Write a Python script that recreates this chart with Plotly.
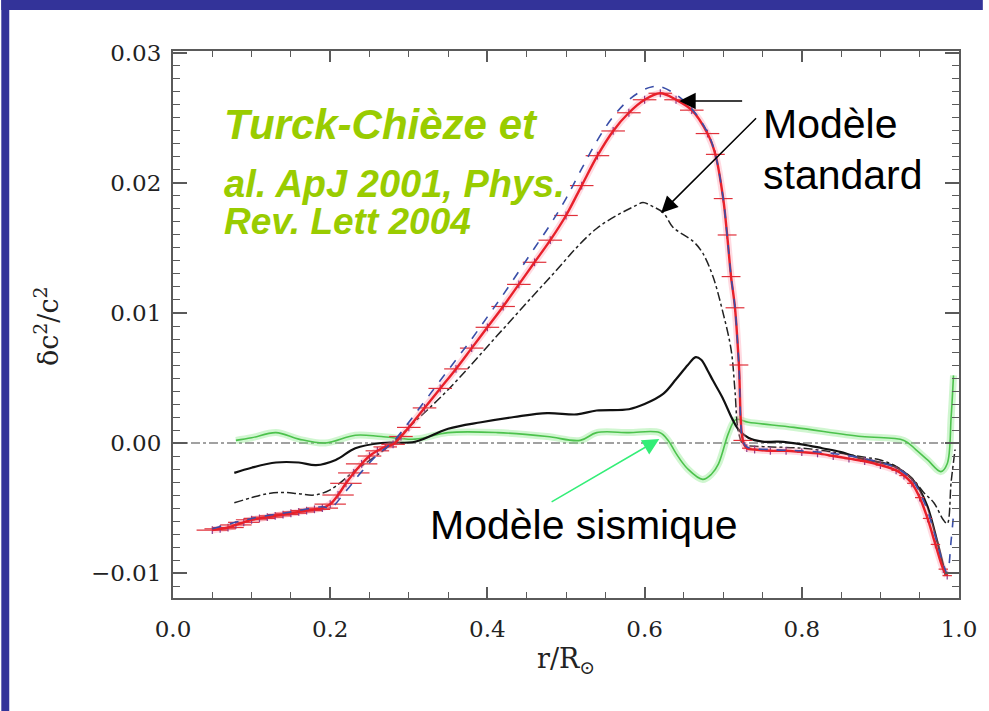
import plotly.graph_objects as go

# ---- seismic inversion (red points with radial resolution bars) ----
r_sismo = [0.05, 0.06, 0.07, 0.08, 0.09, 0.10, 0.11, 0.12, 0.13, 0.14, 0.15, 0.16, 0.17, 0.18, 0.19,
           0.20, 0.21, 0.22, 0.23, 0.24, 0.25, 0.26, 0.27, 0.28, 0.29, 0.30, 0.32, 0.34, 0.36, 0.38,
           0.40, 0.42, 0.44, 0.46, 0.48, 0.50, 0.52, 0.54, 0.56, 0.58, 0.60, 0.62, 0.64, 0.66, 0.68,
           0.69, 0.70, 0.705, 0.71, 0.715, 0.72, 0.725, 0.73, 0.74, 0.76, 0.78, 0.80, 0.82, 0.84,
           0.86, 0.88, 0.90, 0.92, 0.93, 0.94, 0.95, 0.96, 0.97, 0.98, 0.985]
dc2_sismo = [-0.0067, -0.0066, -0.0065, -0.0063, -0.0061, -0.0059, -0.0058, -0.0057, -0.0056, -0.0055,
             -0.0054, -0.0053, -0.0052, -0.0051, -0.0050, -0.0047, -0.0040, -0.0031, -0.0023, -0.0016,
             -0.0010, -0.0006, -0.0003, -0.0001, 0.0005, 0.0012, 0.0027, 0.0042, 0.0057, 0.0073,
             0.0089, 0.0105, 0.0122, 0.0139, 0.0156, 0.0175, 0.0198, 0.0221, 0.0240, 0.0254,
             0.0264, 0.0269, 0.0264, 0.0256, 0.0238, 0.0222, 0.0188, 0.0160, 0.0128, 0.0104,
             0.0060, 0.0002, -0.0004, -0.0005, -0.0006, -0.0006, -0.0007, -0.0008, -0.0010,
             -0.0012, -0.0014, -0.0017, -0.0021, -0.0025, -0.0031, -0.0042, -0.0058, -0.0078,
             -0.0097, -0.0102]
err_r = [0.02] * 20 + [0.015] * 25 + [0.012] * 7 + [0.006] * 18

# ---- standard models ----
r_std1 = [0.05, 0.10, 0.15, 0.19, 0.20, 0.22, 0.24, 0.26, 0.28, 0.30, 0.32, 0.34, 0.36, 0.38, 0.40,
          0.42, 0.44, 0.46, 0.48, 0.50, 0.52, 0.54, 0.56, 0.58, 0.60, 0.61, 0.62, 0.64, 0.66, 0.68,
          0.69, 0.70, 0.705, 0.71, 0.715, 0.72, 0.725, 0.73, 0.76, 0.80, 0.84, 0.88, 0.90, 0.92,
          0.94, 0.95, 0.96, 0.97, 0.98, 0.985, 0.99, 0.993]
dc2_std1 = [-0.0066, -0.0058, -0.0053, -0.0049, -0.0050, -0.0037, -0.0022, -0.0009, 0.0001, 0.0016,
            0.0032, 0.0048, 0.0064, 0.0080, 0.0097, 0.0114, 0.0132, 0.0150, 0.0168, 0.0188, 0.0211,
            0.0233, 0.0251, 0.0264, 0.0272, 0.0274, 0.0274, 0.0268, 0.0257, 0.0239, 0.0222, 0.0188,
            0.0160, 0.0128, 0.0104, 0.0060, 0.0002, -0.0003, -0.0005, -0.0006, -0.0008, -0.0012,
            -0.0015, -0.0019, -0.0028, -0.0038, -0.0052, -0.0072, -0.0093, -0.0100, -0.0075,
            -0.0055]

r_std2 = [0.078, 0.10, 0.12, 0.14, 0.16, 0.18, 0.20, 0.232, 0.265, 0.283, 0.30, 0.35, 0.413, 0.476,
          0.539, 0.59, 0.598, 0.61, 0.624, 0.636, 0.662, 0.674, 0.687, 0.699, 0.71, 0.715, 0.719,
          0.725, 0.73, 0.76, 0.80, 0.84, 0.88, 0.90, 0.92, 0.94, 0.955, 0.968, 0.98, 0.985, 0.99,
          0.995]
dc2_std2 = [-0.0046, -0.0042, -0.0039, -0.0038, -0.0039, -0.0040, -0.0036, -0.0021, -0.0007, 0.0002,
            0.0012, 0.0041, 0.0083, 0.0125, 0.0165, 0.0183, 0.0185, 0.0182, 0.0177, 0.0166, 0.0155,
            0.0146, 0.0128, 0.0102, 0.0072, 0.0040, 0.0010, -0.0001, -0.0002, -0.0003, -0.0004,
            -0.0007, -0.0011, -0.0013, -0.0018, -0.0027, -0.0038, -0.0046, -0.0059, -0.0062,
            -0.0030, -0.0005]

r_std3 = [0.078, 0.10, 0.131, 0.16, 0.182, 0.207, 0.232, 0.265, 0.308, 0.35, 0.392, 0.434, 0.476,
          0.514, 0.539, 0.58, 0.60, 0.624, 0.64, 0.655, 0.665, 0.672, 0.68, 0.687, 0.699, 0.712,
          0.72, 0.732, 0.75, 0.77, 0.80, 0.826, 0.85, 0.876, 0.90, 0.918, 0.939, 0.95, 0.96, 0.972,
          0.983]
dc2_std3 = [-0.0023, -0.0019, -0.0015, -0.0015, -0.0017, -0.0013, -0.0004, 0.0000, 0.0001, 0.0011,
            0.0016, 0.0020, 0.0023, 0.0022, 0.0025, 0.0026, 0.0030, 0.0038, 0.0049, 0.0060, 0.0066,
            0.0064, 0.0056, 0.0048, 0.0035, 0.0018, 0.0010, 0.0004, 0.0001, 0.0001, -0.0001,
            -0.0004, -0.0007, -0.0012, -0.0015, -0.0018, -0.0027, -0.0036, -0.0049, -0.0075,
            -0.0102]

# ---- seismic model ----
r_seis = [0.08, 0.10, 0.131, 0.16, 0.194, 0.232, 0.265, 0.308, 0.35, 0.413, 0.476, 0.518, 0.539,
          0.58, 0.619, 0.63, 0.64, 0.655, 0.674, 0.685, 0.694, 0.707, 0.716, 0.732, 0.79, 0.876,
          0.93, 0.945, 0.96, 0.977, 0.985, 0.99, 0.993]
dc2_seis = [0.0002, 0.0004, 0.0008, 0.0003, 0.0000, 0.0006, 0.0005, 0.0003, 0.0008, 0.0008, 0.0005,
            0.0002, 0.0008, 0.0008, 0.0008, 0.0002, -0.0008, -0.0020, -0.0028, -0.0024, -0.0016,
            0.0008, 0.0018, 0.0016, 0.0012, 0.0005, 0.0002, -0.0005, -0.0013, -0.0022, -0.0016,
            0.0020, 0.0052]

x_ticks = [0.0, 0.2, 0.4, 0.6, 0.8, 1.0]
y_ticks = [-0.01, 0.00, 0.01, 0.02, 0.03]

SLIDE_BLUE = "#333399"
AXIS_GREY = "#5a5a5a"
SERIF = "DejaVu Serif"

fig = go.Figure()

# zero reference
fig.add_trace(go.Scatter(x=[0, 1], y=[0, 0], mode="lines",
                         line=dict(color="#444", width=1.2, dash="dashdot"), hoverinfo="skip"))

# seismic model: soft halo + line
fig.add_trace(go.Scatter(x=r_seis, y=dc2_seis, mode="lines",
                         line=dict(color="rgba(120,230,120,0.35)", width=7, shape="spline"),
                         hoverinfo="skip"))
fig.add_trace(go.Scatter(x=r_seis, y=dc2_seis, mode="lines",
                         line=dict(color="#4cc24c", width=1.6, shape="spline")))

fig.add_trace(go.Scatter(x=r_std3, y=dc2_std3, mode="lines",
                         line=dict(color="#111", width=2.2, shape="spline")))
fig.add_trace(go.Scatter(x=r_std2, y=dc2_std2, mode="lines",
                         line=dict(color="#222", width=1.5, dash="dashdot", shape="spline")))

# seismic inversion with resolution bars
fig.add_trace(go.Scatter(x=r_sismo, y=dc2_sismo, mode="lines",
                         line=dict(color="rgba(255,150,170,0.35)", width=7, shape="spline"),
                         hoverinfo="skip"))
fig.add_trace(go.Scatter(x=r_sismo, y=dc2_sismo, mode="lines",
                         line=dict(color="#e8202a", width=2.4, shape="spline"),
                         error_x=dict(type="data", array=err_r, color="#e0303a",
                                      thickness=1.2, width=0),
                         error_y=dict(type="constant", value=0.0003, color="#8a3a8a",
                                      thickness=1.2, width=0)))

fig.add_trace(go.Scatter(x=r_std1, y=dc2_std1, mode="lines",
                         line=dict(color="#3a4ea8", width=1.6, dash="dash", shape="spline")))

axis_common = dict(showline=True, linecolor=AXIS_GREY, linewidth=2, mirror="allticks",
                   ticks="inside", tickcolor=AXIS_GREY, tickwidth=1.5, showgrid=False,
                   zeroline=False,
                   tickfont=dict(family=SERIF, size=23, color="#222"))

fig.update_xaxes(range=[0, 1], tickvals=x_ticks, ticktext=[f"{v:.1f}" for v in x_ticks],
                 ticklen=11, ticklabelstandoff=9,
                 minor=dict(dtick=0.05, ticks="inside", ticklen=6, tickcolor=AXIS_GREY,
                            tickwidth=1.2, showgrid=False),
                 **axis_common)
fig.update_yaxes(range=[-0.01192, 0.03015], tickvals=y_ticks,
                 ticktext=["\u22120.01", "0.00", "0.01", "0.02", "0.03"],
                 ticklen=14, ticklabelstandoff=5,
                 minor=dict(dtick=0.001, ticks="inside", ticklen=7, tickcolor=AXIS_GREY,
                            tickwidth=1.2, showgrid=False),
                 **axis_common)

GREEN_TXT = "#99cc00"
annotations = [
    dict(text="Turck-Chièze et", x=0.0619, y=0.02446, xanchor="left", yanchor="middle",
         font=dict(family="Liberation Sans", size=42, color=GREEN_TXT)),
    dict(text="al. ApJ 2001, Phys.", x=0.0619, y=0.0199, xanchor="left", yanchor="middle",
         font=dict(family="Liberation Sans", size=38, color=GREEN_TXT)),
    dict(text="Rev. Lett 2004", x=0.0619, y=0.0170, xanchor="left", yanchor="middle",
         font=dict(family="Liberation Sans", size=37, color=GREEN_TXT)),
    dict(text="Modèle", x=0.7475, y=0.0245, xanchor="left", yanchor="middle",
         font=dict(family="Liberation Sans", size=41, color="#000")),
    dict(text="standard", x=0.7475, y=0.0206, xanchor="left", yanchor="middle",
         font=dict(family="Liberation Sans", size=41, color="#000")),
    dict(text="Modèle sismique", x=0.3245, y=-0.0063, xanchor="left", yanchor="middle",
         font=dict(family="Liberation Sans", size=41, color="#000")),
]
for a in annotations:
    if a["font"]["color"] == GREEN_TXT:
        a["text"] = "<b><i>" + a["text"] + "</i></b>"
    a.update(xref="x", yref="y", showarrow=False)

arrows = [
    dict(x=0.644, y=0.0263, ax=0.726, ay=0.0263, arrowcolor="#000"),
    dict(x=0.621, y=0.0177, ax=0.7437, ay=0.0251, arrowcolor="#000"),
    dict(x=0.6187, y=0.0003, ax=0.4798, ay=-0.0046, arrowcolor="#33ee77"),
]
for a in arrows:
    a.update(xref="x", yref="y", axref="x", ayref="y", text="", showarrow=True,
             arrowhead=2, arrowsize=2.2, arrowwidth=1.5, standoff=0)
    annotations.append(a)

# axis titles
annotations.append(dict(text="r/R<sub>\u2299</sub>", xref="paper", yref="paper",
                        x=0.5, y=-0.115, xanchor="center", yanchor="middle", showarrow=False,
                        font=dict(family=SERIF, size=27, color="#222")))
annotations.append(dict(text="\u03b4c<sup>2</sup>/c<sup>2</sup>", xref="paper", yref="paper",
                        x=-0.1616, y=0.497, xanchor="center", yanchor="middle", showarrow=False,
                        textangle=-90, font=dict(family=SERIF, size=27, color="#222")))

# slide frame: blue band on top and left edges
W, H = 989, 711
L, R, T, B = 173, 24, 51, 113
pw, ph = W - L - R, H - T - B
def px_x(p):
    return (p - L) / pw
def px_y(p):
    return (H - B - p) / ph
shapes = [
    dict(type="rect", xref="paper", yref="paper", x0=px_x(0), x1=px_x(W), y0=px_y(0), y1=px_y(10),
         fillcolor=SLIDE_BLUE, line=dict(width=0), layer="below"),
    dict(type="rect", xref="paper", yref="paper", x0=px_x(0), x1=px_x(8), y0=px_y(0), y1=px_y(H),
         fillcolor=SLIDE_BLUE, line=dict(width=0), layer="below"),
]

fig.update_layout(width=W, height=H, margin=dict(l=L, r=R, t=T, b=B),
                  paper_bgcolor="white", plot_bgcolor="white", showlegend=False,
                  annotations=annotations, shapes=shapes)

fig.write_html("out.html")
